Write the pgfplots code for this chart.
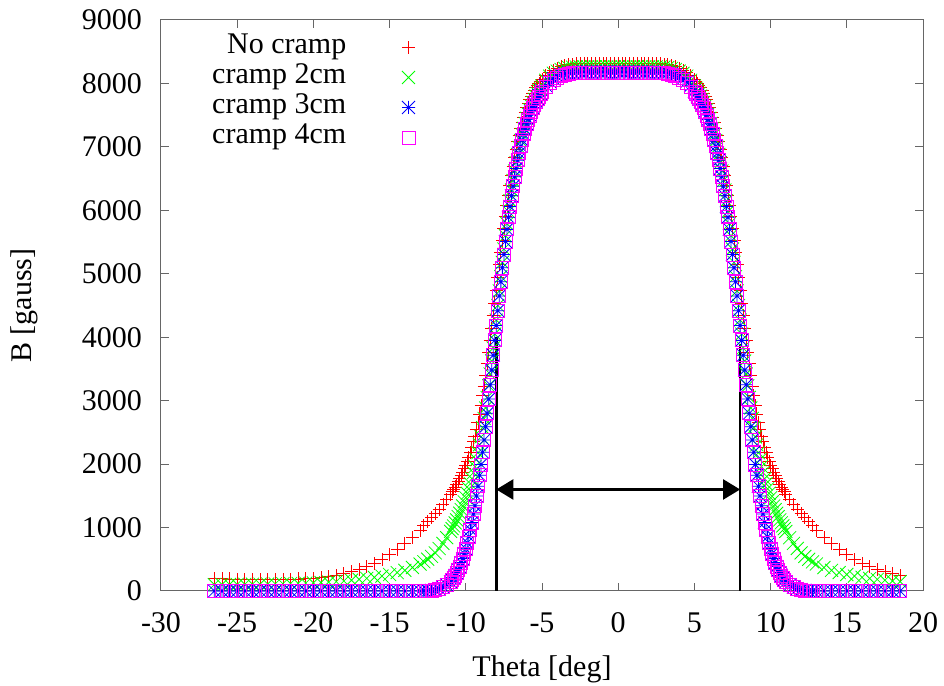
\documentclass[border=0pt]{standalone}
\usepackage{fontspec}
\setmainfont{Liberation Serif}
\usepackage{pgfplots}
\pgfplotsset{compat=1.18}
\usepackage{pgfplotstable}
\usetikzlibrary{arrows.meta}

\definecolor{gpred}{RGB}{255,0,0}
\definecolor{gpgreen}{RGB}{0,255,0}
\definecolor{gpblue}{RGB}{0,0,255}
\definecolor{gpmagenta}{RGB}{255,0,255}

\pgfdeclareplotmark{gpplus}{%
  \pgfsetstrokecolor{gpred}\pgfsetlinewidth{0.8pt}%
  \pgfpathmoveto{\pgfqpoint{-\pgfplotmarksize}{0pt}}\pgfpathlineto{\pgfqpoint{\pgfplotmarksize}{0pt}}%
  \pgfpathmoveto{\pgfqpoint{0pt}{-\pgfplotmarksize}}\pgfpathlineto{\pgfqpoint{0pt}{\pgfplotmarksize}}%
  \pgfusepathqstroke}
\pgfdeclareplotmark{gpx}{%
  \pgfsetstrokecolor{gpgreen}\pgfsetlinewidth{0.8pt}%
  \pgfpathmoveto{\pgfqpoint{-\pgfplotmarksize}{-\pgfplotmarksize}}\pgfpathlineto{\pgfqpoint{\pgfplotmarksize}{\pgfplotmarksize}}%
  \pgfpathmoveto{\pgfqpoint{-\pgfplotmarksize}{\pgfplotmarksize}}\pgfpathlineto{\pgfqpoint{\pgfplotmarksize}{-\pgfplotmarksize}}%
  \pgfusepathqstroke}
\pgfdeclareplotmark{gpstar}{%
  \pgfsetstrokecolor{gpblue}\pgfsetlinewidth{0.8pt}%
  \pgfpathmoveto{\pgfqpoint{-\pgfplotmarksize}{0pt}}\pgfpathlineto{\pgfqpoint{\pgfplotmarksize}{0pt}}%
  \pgfpathmoveto{\pgfqpoint{0pt}{-\pgfplotmarksize}}\pgfpathlineto{\pgfqpoint{0pt}{\pgfplotmarksize}}%
  \pgfpathmoveto{\pgfqpoint{-\pgfplotmarksize}{-\pgfplotmarksize}}\pgfpathlineto{\pgfqpoint{\pgfplotmarksize}{\pgfplotmarksize}}%
  \pgfpathmoveto{\pgfqpoint{-\pgfplotmarksize}{\pgfplotmarksize}}\pgfpathlineto{\pgfqpoint{\pgfplotmarksize}{-\pgfplotmarksize}}%
  \pgfusepathqstroke}
\pgfdeclareplotmark{gpsquare}{%
  \pgfsetstrokecolor{gpmagenta}\pgfsetlinewidth{0.8pt}%
  \pgfpathrectangle{\pgfqpoint{-\pgfplotmarksize}{-\pgfplotmarksize}}{\pgfqpoint{2\pgfplotmarksize}{2\pgfplotmarksize}}%
  \pgfusepathqstroke}

% theta [deg], B [gauss]: No cramp, cramp 2cm, cramp 3cm, cramp 4cm
\pgfplotstableread{
x R G B M
-26.5 200 101 0 0
-26.0 194 102 0 0
-25.5 189 103 0 0
-25.0 185 104 0 0
-24.5 182 105 0 0
-24.0 180 107 0 0
-23.5 179 108 0 0
-23.0 179 110 0 0
-22.5 180 112 0 0
-22.0 182 114 0 0
-21.5 185 117 0 0
-21.0 189 120 0 0
-20.5 195 124 0 0
-20.0 202 128 0 0
-19.5 212 134 0 0
-19.0 225 140 0 0
-18.5 245 148 0 0
-18.0 272 158 0 0
-17.5 305 170 0 0
-17.0 345 183 0 0
-16.5 390 198 0 0
-16.0 440 215 0 0
-15.5 500 235 0 0
-15.0 570 260 0 0
-14.5 650 290 0 0
-14.0 745 325 0 0
-13.5 850 370 0 0
-13.0 960 425 0 0
-12.75 1040 460 1 1
-12.5 1100 500 4 4
-12.25 1160 545 10 9
-12.0 1225 600 20 18
-11.75 1290 670 38 36
-11.5 1360 750 62 60
-11.25 1440 840 95 95
-11.0 1525 940 145 145
-10.9 1562 983 175 175
-10.8 1600 1025 205 205
-10.7 1640 1073 245 245
-10.6 1680 1120 285 285
-10.5 1725 1173 335 335
-10.4 1770 1225 385 385
-10.3 1820 1283 448 448
-10.2 1870 1340 510 510
-10.1 1925 1405 588 588
-10.0 1980 1470 665 665
-9.9 2045 1540 760 760
-9.8 2110 1610 855 855
-9.7 2185 1690 968 968
-9.6 2260 1770 1080 1080
-9.5 2350 1865 1213 1213
-9.4 2440 1960 1345 1345
-9.3 2550 2070 1498 1498
-9.2 2660 2180 1650 1650
-9.1 2790 2305 1823 1823
-9.0 2920 2430 1995 1995
-8.9 3075 2575 2188 2188
-8.8 3230 2720 2380 2380
-8.7 3405 2885 2590 2590
-8.6 3580 3050 2800 2800
-8.5 3765 3235 3025 3025
-8.4 3950 3420 3250 3250
-8.3 4145 3625 3483 3483
-8.2 4340 3830 3715 3715
-8.1 4540 4050 3950 3950
-8.0 4740 4270 4185 4185
-7.9 4940 4500 4418 4418
-7.8 5140 4730 4650 4650
-7.7 5335 4955 4873 4873
-7.6 5530 5180 5095 5095
-7.5 5715 5390 5303 5303
-7.4 5900 5600 5510 5510
-7.3 6070 5790 5700 5700
-7.2 6240 5980 5890 5890
-7.1 6395 6150 6060 6060
-7.0 6550 6320 6230 6230
-6.9 6690 6470 6380 6380
-6.8 6830 6620 6530 6530
-6.7 6955 6750 6660 6660
-6.6 7080 6880 6790 6790
-6.5 7185 6990 6900 6900
-6.4 7290 7100 7010 7010
-6.3 7380 7195 7105 7105
-6.2 7470 7290 7200 7200
-6.1 7545 7370 7280 7280
-6.0 7620 7450 7365 7360
-5.9 7685 7518 7435 7428
-5.8 7750 7585 7503 7495
-5.7 7800 7643 7562 7553
-5.6 7850 7700 7620 7610
-5.5 7893 7750 7671 7660
-5.4 7935 7800 7721 7710
-5.3 7970 7843 7765 7753
-5.2 8005 7885 7806 7795
-5.1 8035 7923 7844 7833
-5.0 8065 7960 7882 7870
-4.75 8125 8050 7965 7950
-4.5 8172 8115 8030 8015
-4.25 8210 8160 8075 8060
-4.0 8240 8195 8110 8095
-3.75 8262 8220 8135 8120
-3.5 8280 8238 8155 8140
-3.25 8293 8250 8167 8152
-3.0 8303 8258 8175 8160
-2.75 8310 8260 8177 8162
-2.5 8315 8261 8179 8164
-2.25 8318 8262 8180 8165
-2.0 8320 8262 8180 8165
-1.75 8320 8262 8180 8165
-1.5 8320 8262 8180 8165
-1.25 8320 8262 8180 8165
-1.0 8320 8262 8180 8165
-0.75 8320 8262 8180 8165
-0.5 8320 8262 8180 8165
-0.25 8320 8262 8180 8165
0.0 8320 8262 8180 8165
0.25 8320 8262 8180 8165
0.5 8320 8262 8180 8165
0.75 8320 8262 8180 8165
1.0 8320 8262 8180 8165
1.25 8320 8262 8180 8165
1.5 8320 8262 8180 8165
1.75 8320 8262 8180 8165
2.0 8320 8262 8180 8165
2.25 8318 8262 8180 8165
2.5 8315 8261 8179 8164
2.75 8310 8260 8177 8162
3.0 8303 8258 8175 8160
3.25 8293 8250 8167 8152
3.5 8280 8238 8155 8140
3.75 8262 8220 8135 8120
4.0 8240 8195 8110 8095
4.25 8210 8160 8075 8060
4.5 8172 8115 8030 8015
4.75 8125 8050 7965 7950
5.0 8065 7960 7882 7870
5.1 8035 7923 7844 7833
5.2 8005 7885 7806 7795
5.3 7970 7843 7765 7753
5.4 7935 7800 7721 7710
5.5 7893 7750 7671 7660
5.6 7850 7700 7620 7610
5.7 7800 7643 7562 7553
5.8 7750 7585 7503 7495
5.9 7685 7518 7435 7428
6.0 7620 7450 7365 7360
6.1 7545 7370 7280 7280
6.2 7470 7290 7200 7200
6.3 7380 7195 7105 7105
6.4 7290 7100 7010 7010
6.5 7185 6990 6900 6900
6.6 7080 6880 6790 6790
6.7 6955 6750 6660 6660
6.8 6830 6620 6530 6530
6.9 6690 6470 6380 6380
7.0 6550 6320 6230 6230
7.1 6395 6150 6060 6060
7.2 6240 5980 5890 5890
7.3 6070 5790 5700 5700
7.4 5900 5600 5510 5510
7.5 5715 5390 5303 5303
7.6 5530 5180 5095 5095
7.7 5335 4955 4873 4873
7.8 5140 4730 4650 4650
7.9 4940 4500 4418 4418
8.0 4740 4270 4185 4185
8.1 4540 4050 3950 3950
8.2 4340 3830 3715 3715
8.3 4145 3625 3483 3483
8.4 3950 3420 3250 3250
8.5 3765 3235 3025 3025
8.6 3580 3050 2800 2800
8.7 3405 2885 2590 2590
8.8 3230 2720 2380 2380
8.9 3075 2575 2188 2188
9.0 2920 2430 1995 1995
9.1 2790 2305 1823 1823
9.2 2660 2180 1650 1650
9.3 2550 2070 1498 1498
9.4 2440 1960 1345 1345
9.5 2350 1865 1213 1213
9.6 2260 1770 1080 1080
9.7 2185 1690 968 968
9.8 2110 1610 855 855
9.9 2045 1540 760 760
10.0 1980 1470 665 665
10.1 1925 1405 588 588
10.2 1870 1340 510 510
10.3 1820 1283 448 448
10.4 1770 1225 385 385
10.5 1725 1173 335 335
10.6 1680 1120 285 285
10.7 1640 1073 245 245
10.8 1600 1025 205 205
10.9 1562 983 175 175
11.0 1525 940 145 145
11.25 1440 840 95 95
11.5 1360 750 62 60
11.75 1290 670 38 36
12.0 1225 600 20 18
12.25 1160 545 10 9
12.5 1100 500 4 4
12.75 1040 460 1 1
13.0 960 425 0 0
13.5 850 370 0 0
14.0 745 325 0 0
14.5 650 290 0 0
15.0 570 260 0 0
15.5 500 235 0 0
16.0 440 215 0 0
16.5 390 198 0 0
17.0 345 183 0 0
17.5 305 170 0 0
18.0 272 158 0 0
18.5 245 148 0 0
}\fielddata

\begin{document}
\fontsize{30}{36}\selectfont
\begin{tikzpicture}
\begin{axis}[
  name=ax,
  scale only axis,
  width=762pt, height=571pt,
  xmin=-30, xmax=20, ymin=0, ymax=9000,
  xtick={-30,-25,-20,-15,-10,-5,0,5,10,15,20},
  xticklabels={-30,-25,-20,-15,-10,-5,0,5,10,15,20},
  ytick={0,1000,2000,3000,4000,5000,6000,7000,8000,9000},
  yticklabels={0,1000,2000,3000,4000,5000,6000,7000,8000,9000},
  scaled ticks=false,
  tick align=inside,
  major tick length=8pt,
  axis line style={black!60, line width=1pt},
  tick style={black!60, line width=1pt},
  xticklabel style={anchor=base, inner sep=0pt, yshift=-42pt, text=black},
  yticklabel style={anchor=east, inner sep=0pt, xshift=-19pt, text=black},
  xlabel={Theta [deg]},
  ylabel={B [gauss]},
  xlabel style={at={(axis description cs:0.5,-0.1506)}, anchor=base, inner sep=0pt},
  ylabel style={at={(axis description cs:-0.1693,0.5)}, anchor=base, inner sep=0pt},
  clip=false,
  legend cell align=right,
  legend plot pos=right,
  legend style={at={(axis description cs:0.063,0.982)}, anchor=north west,
    draw=none, fill=none, row sep=0pt, column sep=0pt,
    nodes={inner sep=0pt, text height=21pt, text depth=9pt}},
  legend image code/.code={\path (0pt,0pt); \draw[#1] plot coordinates {(62pt,0pt)};},
]
\addplot[only marks, mark=gpplus, mark size=6.5pt, color=gpred] table[x=x, y=R] {\fielddata};
\addlegendentry{No cramp}
\addplot[only marks, mark=gpx, mark size=6.5pt, color=gpgreen] table[x=x, y=G] {\fielddata};
\addlegendentry{cramp 2cm}
\addplot[only marks, mark=gpstar, mark size=6.5pt, color=gpblue] table[x=x, y=B] {\fielddata};
\addlegendentry{cramp 3cm}
\addplot[only marks, mark=gpsquare, mark size=6.5pt, color=gpmagenta] table[x=x, y=M] {\fielddata};
\addlegendentry{cramp 4cm}
\addplot[black, line width=2.5pt, forget plot] coordinates {(-8,0) (-8,4000)};
\addplot[black, line width=2.5pt, forget plot] coordinates {(8,0) (8,3900)};
\draw[black, line width=2.2pt, {Triangle[length=17pt,width=20pt]}-{Triangle[length=17pt,width=20pt]}] (axis cs:-8,1600) -- (axis cs:8,1600);
\end{axis}
\pgfresetboundingbox
\path[use as bounding box] ([xshift=-161pt,yshift=-95pt]ax.south west) rectangle ([xshift=21pt,yshift=20pt]ax.north east);
\end{tikzpicture}
\end{document}
